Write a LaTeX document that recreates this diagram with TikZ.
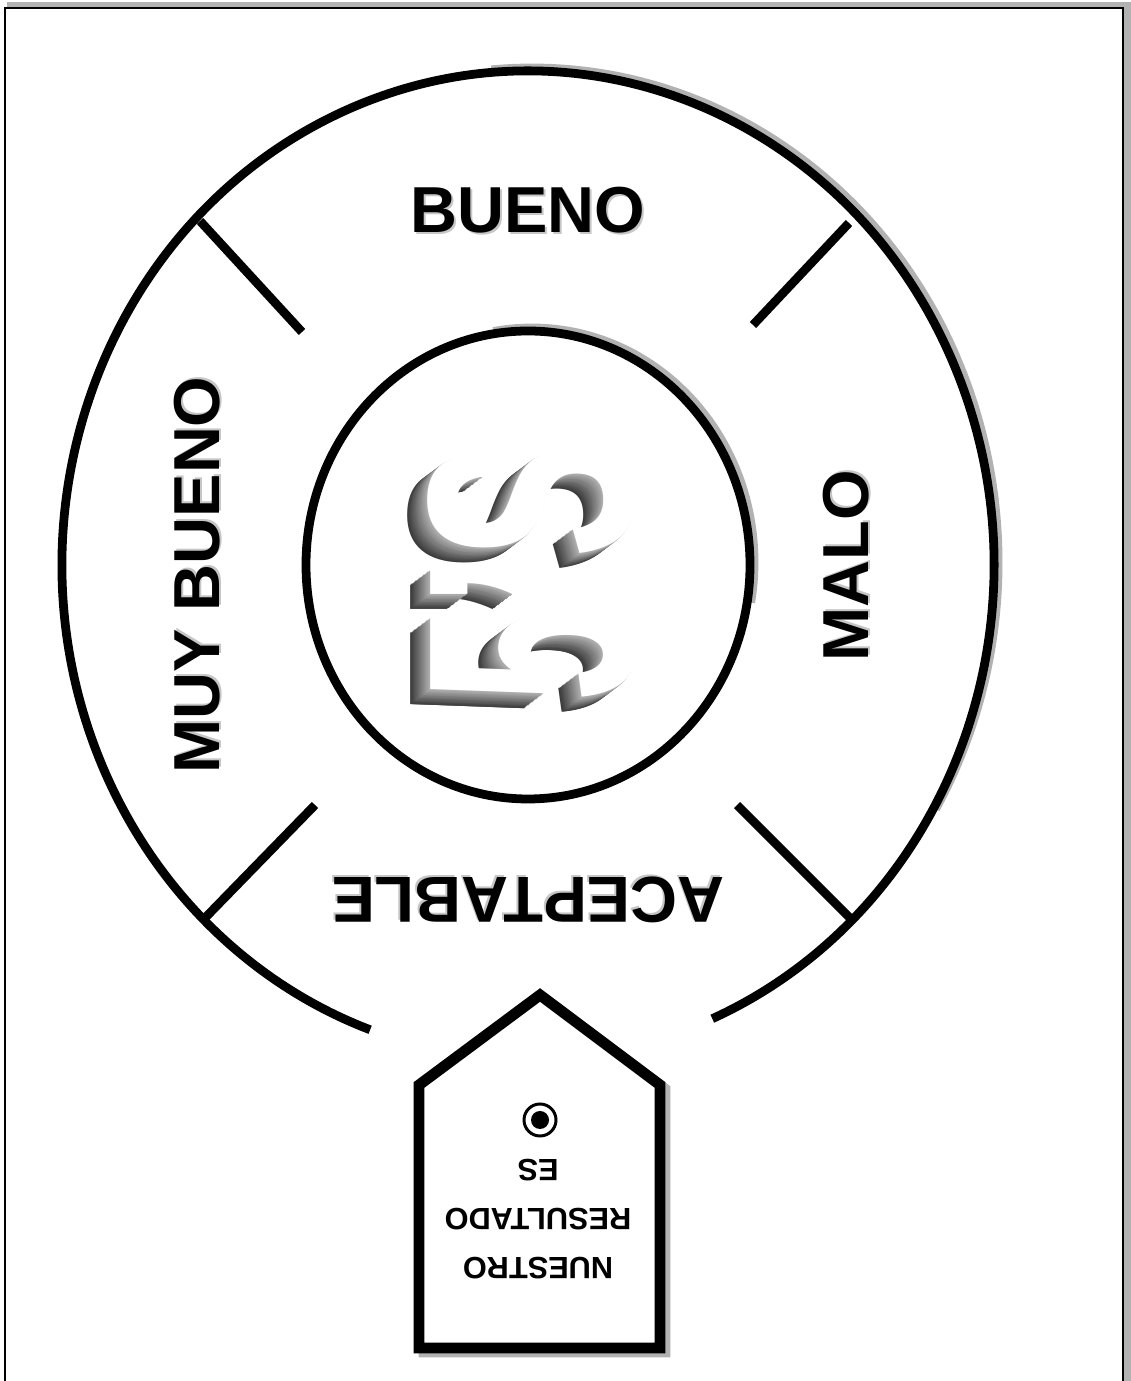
\documentclass[tikz,border=0pt]{standalone}
\usepackage{fontspec}
\setmainfont{Liberation Sans}
\usetikzlibrary{calc}
\newcommand{\fivestxt}{\scalebox{0.59}[1]{5\char"27S}}
\begin{document}
\begin{tikzpicture}[x=0.02cm,y=0.02cm, font=\bfseries,
  lbl/.style={font=\fontsize{37}{44}\selectfont\bfseries, inner sep=0pt},
  ring/.style={line width=5pt},
  shad/.style={gray!60},
  fives/.style={rotate=90, inner sep=0pt, font=\fontsize{167}{167}\selectfont\bfseries}]
  \useasboundingbox (0,0) rectangle (1131,1381);
  % marco
  \fill[shad] (7,-10) rectangle (1131,1379);
  \draw[line width=1.2pt, fill=white] (5,-10) rectangle (1123,1373);
  \coordinate (C) at (528,816);
  % anillo exterior, abierto abajo
  \draw[ring, shad] ($(C)+(4,3)+(-30:466 and 494)$) arc[start angle=-30, end angle=95, x radius=466, y radius=494];
  \draw[ring] ($(C)+(293.3:466 and 494)$) arc[start angle=293.3, end angle=610.2, x radius=466, y radius=494];
  % circulo interior
  \draw[ring, shad] ($(C)+(4,3)+(-10:222 and 234)$) arc[start angle=-10, end angle=100, x radius=222, y radius=234];
  \draw[ring] (C) ellipse [x radius=222, y radius=234];
  % separadores
  \coordinate (tl1) at (200,1160); \coordinate (tl2) at (302,1049);
  \coordinate (tr1) at (849,1158); \coordinate (tr2) at (753,1056);
  \coordinate (bl1) at (203,461);  \coordinate (bl2) at (315,576);
  \coordinate (br1) at (852,461);  \coordinate (br2) at (737,576);
  \foreach \p in {tl,tr,bl,br} { \draw[ring] (\p1) -- (\p2); }
  % textos
  \foreach \x/\y/\a/\t/\n in {528/1171/0/BUENO/bueno, 197/806/90/MUY BUENO/muy, 846/815/90/MALO/malo, 528/481/180/ACEPTABLE/acep} {
    \node[lbl, gray!45, rotate=\a] at ($(\x,\y)+({\a-45}:2.8)$) {\t};
    \node[lbl, rotate=\a] (\n) at (\x,\y) {\t};
  }
  % 5'S con relieve
  \coordinate (fc) at (531,808);
  \foreach \k in {20,19,...,1} { \pgfmathtruncatemacro\g{30+2.4*\k} \node[fives, text=black!\g] at ($(fc)+(-\k*1.0,-\k*0.75)$) {\fivestxt}; }
  \node[fives, text=white] (cinco) at (fc) {\fivestxt};
  % indicador
  \draw[line width=6.2pt, shad, miter limit=4] (424,29) -- (665,29) -- (665,292) -- (545,382) -- (424,292) -- cycle;
  \draw[line width=6.2pt, fill=white, miter limit=4] (419,33) -- (660,33) -- (660,296) -- (540,386) -- (419,296) -- cycle;
  \node[rotate=180, align=center, inner sep=0pt, font=\fontsize{17.5}{28}\selectfont\bfseries] (res) at (538,162) {\bfseries NUESTRO\\\bfseries RESULTADO\\\bfseries ES};
  \draw[line width=1.7pt] (540,261) circle (16);
  \fill (540,261) circle (9);
\end{tikzpicture}
\end{document}
